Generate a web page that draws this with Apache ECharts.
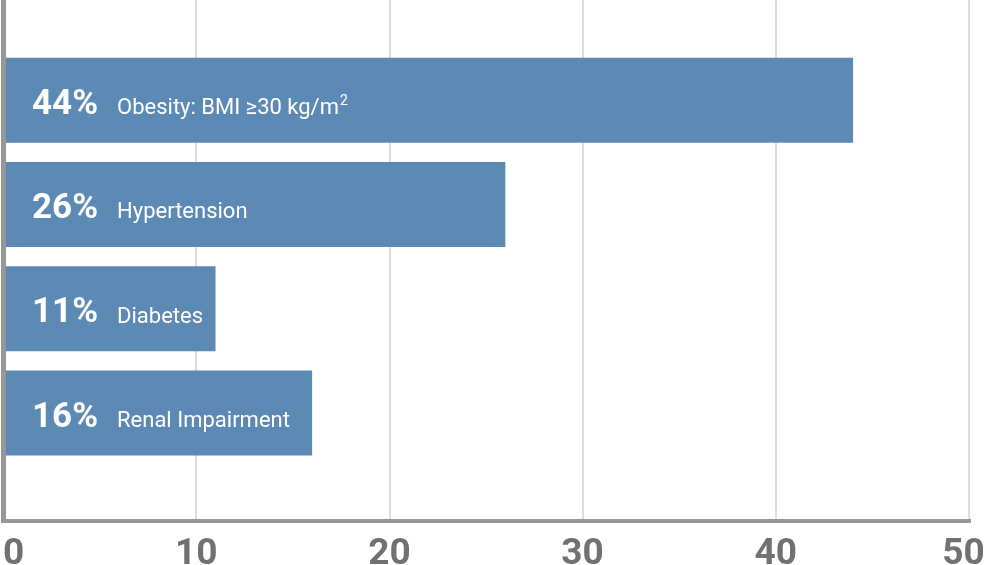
<!DOCTYPE html>
<html><head><meta charset="utf-8">
<script src="https://cdn.jsdelivr.net/npm/echarts@6/dist/echarts.min.js"></script>
<style>html,body{margin:0;padding:0;background:#fff}#c{width:984px;height:565px}</style>
</head><body><div id="c"></div>
<script>
const categories = ['Obesity: BMI ≥30 kg/m²', 'Hypertension', 'Diabetes', 'Renal Impairment'];
const values = [44, 26, 11, 16];
const xTicks = [0, 10, 20, 30, 40, 50];

const chart = echarts.init(document.getElementById('c'), null, {renderer: 'canvas'});
const FONT = 'Roboto, "Noto Sans", sans-serif';
const xMax = xTicks[xTicks.length - 1];
chart.setOption({
  animation: false,
  backgroundColor: '#ffffff',
  grid: [
    {left: 3, right: 15, top: 48, height: 417, outerBoundsMode: 'none', containLabel: false},
    {left: 3, right: 15, top: 0, bottom: 44.5, outerBoundsMode: 'none', containLabel: false}
  ],
  xAxis: [
    {gridIndex: 0, type: 'value', min: xTicks[0], max: xMax, show: false},
    {gridIndex: 1, type: 'value', min: xTicks[0], max: xMax, interval: xTicks[1] - xTicks[0], z: 0,
      axisLine: {show: true, lineStyle: {color: '#979797', width: 4, cap: 'square'}},
      axisTick: {show: false},
      splitLine: {show: true, lineStyle: {color: '#dddddd', width: 2}},
      axisLabel: {fontSize: 37, fontWeight: 'bold', color: '#717171', fontFamily: FONT, margin: 16,
        alignMinLabel: 'left', alignMaxLabel: 'center', hideOverlap: false,
        formatter: function (v) { return v === xMax ? '{m|' + v + '}' : String(v); },
        rich: {m: {fontSize: 37, fontWeight: 'bold', color: '#717171', fontFamily: FONT, padding: [0, 11, 0, 0]}}
      }
    }
  ],
  yAxis: [
    {gridIndex: 0, type: 'category', inverse: true, data: categories, show: false},
    {gridIndex: 1, type: 'value', min: 0, max: 1, z: 5,
      axisLine: {show: true, lineStyle: {color: '#979797', width: 5}},
      axisTick: {show: false}, axisLabel: {show: false}, splitLine: {show: false}}
  ],
  series: [{
    type: 'bar', xAxisIndex: 0, yAxisIndex: 0,
    data: values, barWidth: 85,
    itemStyle: {color: '#5d89b5'},
    label: {
      show: true, position: 'insideLeft', distance: 29, offset: [0, 5],
      formatter: function (p) {
        const parts = categories[p.dataIndex].split('²');
        let s = '{a|' + p.value + '%}{b|' + parts[0] + '}';
        if (parts.length > 1) {
          s += '{s|2}' + (parts[1] ? '{c|' + parts[1] + '}' : '');
        }
        return s;
      },
      rich: {
        a: {fontSize: 35, fontWeight: 'bold', color: '#ffffff', fontFamily: FONT, verticalAlign: 'bottom'},
        b: {fontSize: 22, color: '#ffffff', fontFamily: FONT, padding: [0, 0, 3, 19], verticalAlign: 'bottom'},
        c: {fontSize: 22, color: '#ffffff', fontFamily: FONT, padding: [0, 0, 3, 0], verticalAlign: 'bottom'},
        s: {fontSize: 14, color: '#ffffff', fontFamily: FONT, padding: [0, 0, 14, 1], verticalAlign: 'bottom'}
      }
    }
  }]
});
</script></body></html>
